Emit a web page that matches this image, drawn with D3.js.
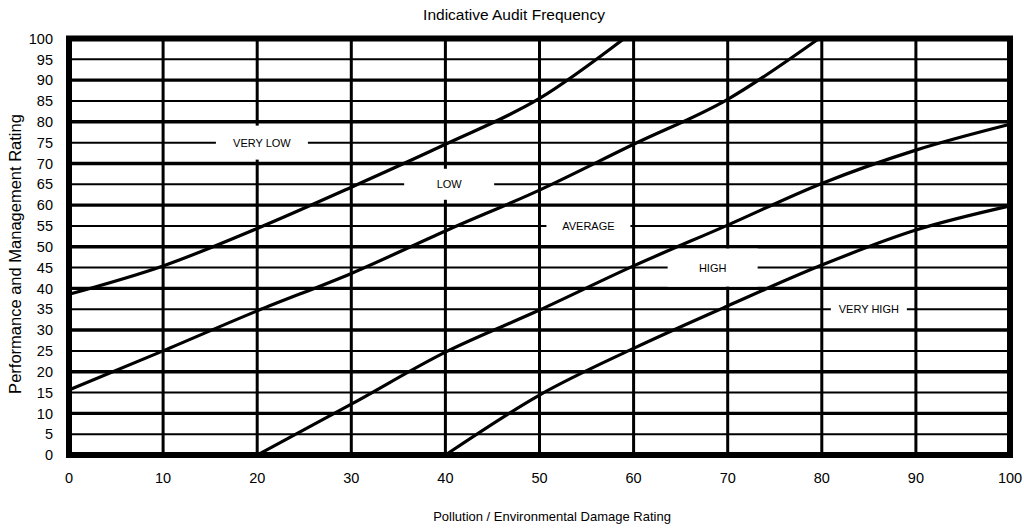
<!DOCTYPE html>
<html>
<head>
<meta charset="utf-8">
<script src="https://cdn.jsdelivr.net/npm/d3@7"></script>
<style>
  html, body { margin: 0; padding: 0; background: #fff; }
  svg { display: block; font-family: "Liberation Sans", Arial, sans-serif; }
</style>
</head>
<body>
<svg id="chart" width="1024" height="529"></svg>
<script>
// ---- data ----
const title = "Indicative Audit Frequency";
const xTitle = "Pollution / Environmental Damage Rating";
const yTitle = "Performance and Management Rating";
const xTicks = [0, 10, 20, 30, 40, 50, 60, 70, 80, 90, 100];
const yTicks = [0, 5, 10, 15, 20, 25, 30, 35, 40, 45, 50, 55, 60, 65, 70, 75, 80, 85, 90, 95, 100];

// boundary curves (x = pollution rating, y = performance rating)
const curveAx = [0, 10, 20, 30, 40, 50, 59];
const curveAy = [38.6, 45.4, 54.4, 64.3, 74.6, 85.6, 100];
const curveBx = [0, 10, 20, 30, 40, 50, 60, 70, 79.7];
const curveBy = [15.6, 25, 34.6, 43.6, 53.8, 63.6, 74.6, 85.4, 100];
const curveCx = [20, 30, 40, 50, 60, 70, 80, 90, 100];
const curveCy = [0, 12.2, 24.7, 34.8, 45.4, 55.2, 65.2, 73.2, 79.4];
const curveDx = [40, 50, 60, 70, 80, 90, 100];
const curveDy = [0, 14.4, 25.6, 35.8, 45.6, 54, 59.8];

// zone labels (text, position in rating units)
const zoneNames = ["VERY LOW", "LOW", "AVERAGE", "HIGH", "VERY HIGH"];
const zoneX = [20.5, 40.4, 55.2, 68.4, 85];
const zoneY = [75, 65, 55, 45, 35];

// ---- layout ----
const svg = d3.select("#chart");
const x = d3.scaleLinear().domain([0, 100]).range([69, 1010]);
const y = d3.scaleLinear().domain([0, 100]).range([455, 38.5]);

// label gap sizes (style)
const gapW = [92, 90, 84, 90, 76];
const gapH = [34, 31, 12, 38, 12];

const grid = svg.append("g");
// horizontal gridlines
grid.selectAll("line.h").data(yTicks.filter(d => d > 0 && d < 100)).join("line")
  .attr("x1", x(0)).attr("x2", x(100))
  .attr("y1", d => y(d)).attr("y2", d => y(d))
  .attr("stroke", "#000")
  .attr("stroke-width", d => d % 10 === 0 ? 3.4 : 2);
// vertical gridlines
grid.selectAll("line.v").data(xTicks.filter(d => d > 0 && d < 100)).join("line")
  .attr("x1", d => x(d)).attr("x2", d => x(d))
  .attr("y1", y(0)).attr("y2", y(100))
  .attr("stroke", "#000")
  .attr("stroke-width", 3);

// white gaps behind the zone labels
svg.append("g").selectAll("rect").data(zoneNames).join("rect")
  .attr("x", (d, i) => x(zoneX[i]) - gapW[i] / 2)
  .attr("y", (d, i) => y(zoneY[i]) - gapH[i] / 2)
  .attr("width", (d, i) => gapW[i])
  .attr("height", (d, i) => gapH[i])
  .attr("fill", "#fff");

// boundary curves
const curves = [[curveAx, curveAy], [curveBx, curveBy], [curveCx, curveCy], [curveDx, curveDy]];
const line = d3.line().x(d => x(d[0])).y(d => y(d[1])).curve(d3.curveMonotoneX);
svg.append("g").selectAll("path").data(curves).join("path")
  .attr("d", c => line(c[0].map((v, i) => [v, c[1][i]])))
  .attr("fill", "none")
  .attr("stroke", "#000")
  .attr("stroke-width", 3.2);

// frame
svg.append("rect")
  .attr("x", x(0)).attr("y", y(100))
  .attr("width", x(100) - x(0)).attr("height", y(0) - y(100))
  .attr("fill", "none").attr("stroke", "#000").attr("stroke-width", 6);

// zone labels
svg.append("g").selectAll("text").data(zoneNames).join("text")
  .attr("x", (d, i) => x(zoneX[i]))
  .attr("y", (d, i) => y(zoneY[i]))
  .attr("dy", "0.36em")
  .attr("text-anchor", "middle")
  .attr("font-size", 11)
  .attr("fill", "#000")
  .text(d => d);

// axes tick labels
svg.append("g").selectAll("text").data(yTicks).join("text")
  .attr("x", 53).attr("y", d => y(d)).attr("dy", "0.36em")
  .attr("text-anchor", "end").attr("font-size", 14.5).attr("fill", "#000")
  .text(d => d);
svg.append("g").selectAll("text").data(xTicks).join("text")
  .attr("x", d => x(d)).attr("y", 483)
  .attr("text-anchor", "middle").attr("font-size", 14.5).attr("fill", "#000")
  .text(d => d);

// titles
svg.append("text").attr("x", 514).attr("y", 20).attr("text-anchor", "middle")
  .attr("font-size", 15.5).text(title);
svg.append("text").attr("x", 552).attr("y", 521).attr("text-anchor", "middle")
  .attr("font-size", 13).text(xTitle);
svg.append("text").attr("transform", "translate(21,254) rotate(-90)")
  .attr("text-anchor", "middle").attr("font-size", 16.5).text(yTitle);
</script>
</body>
</html>
